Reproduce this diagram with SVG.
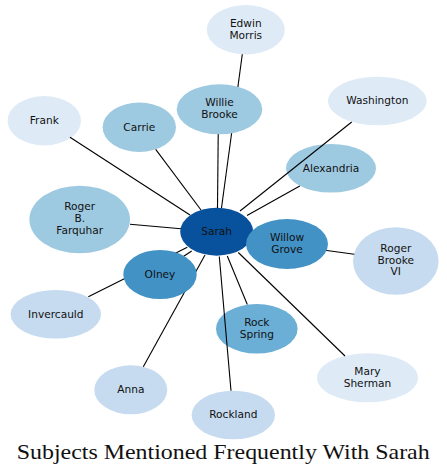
<svg xmlns="http://www.w3.org/2000/svg" width="447" height="475" viewBox="0 0 447 475">
<style>
  .lbl { font-family: "DejaVu Sans", sans-serif; font-size: 10.6px; fill: #111; text-anchor: middle; }
  .edge { stroke: #000; stroke-width: 1.1; fill: none; }
  .c1 { fill: #08519c; }
  .c2 { fill: #4292c6; }
  .c3 { fill: #6baed6; }
  .c4 { fill: #9ecae1; }
  .c5 { fill: #c6dbef; }
  .c6 { fill: #deebf7; }
  .title { font-family: "Liberation Serif", "Times New Roman", serif; font-size: 21px; fill: #111; }
</style>
<rect width="447" height="475" fill="#fff"/>
<g id="node-sarah"><ellipse class="c1" cx="216.7" cy="231.7" rx="36.5" ry="24"/><text class="lbl" x="216.7" y="235">Sarah</text></g>
<g id="node-edwin-morris"><ellipse class="c6" cx="245.8" cy="29.7" rx="39" ry="24.7"/><text class="lbl" x="245.8" y="26.7">Edwin</text><text class="lbl" x="245.8" y="38.7">Morris</text></g>
<g id="node-washington"><ellipse class="c6" cx="377.3" cy="101" rx="49.3" ry="24.3"/><text class="lbl" x="377.3" y="104.2">Washington</text></g>
<g id="node-frank"><ellipse class="c6" cx="44.3" cy="120.7" rx="36.7" ry="24.7"/><text class="lbl" x="44.3" y="123.9">Frank</text></g>
<g id="node-carrie"><ellipse class="c4" cx="139.3" cy="127.3" rx="36.7" ry="24.7"/><text class="lbl" x="139.3" y="130.5">Carrie</text></g>
<g id="node-alexandria"><ellipse class="c4" cx="331" cy="168.3" rx="45" ry="24.3"/><text class="lbl" x="331" y="171.5">Alexandria</text></g>
<g id="node-roger-b-farquhar"><ellipse class="c4" cx="79.7" cy="219.5" rx="50.3" ry="33.8"/><text class="lbl" x="79.7" y="210.3">Roger</text><text class="lbl" x="79.7" y="222.3">B.</text><text class="lbl" x="79.7" y="234.3">Farquhar</text></g>
<g id="node-roger-brooke-vi"><ellipse class="c5" cx="395.8" cy="261" rx="42.8" ry="33.8"/><text class="lbl" x="395.8" y="252">Roger</text><text class="lbl" x="395.8" y="263.7">Brooke</text><text class="lbl" x="395.8" y="275.4">VI</text></g>
<g id="node-invercauld"><ellipse class="c5" cx="55.8" cy="314.3" rx="45.2" ry="24.3"/><text class="lbl" x="55.8" y="317.5">Invercauld</text></g>
<g id="node-rock-spring"><ellipse class="c3" cx="256.8" cy="328.8" rx="40.8" ry="24.8"/><text class="lbl" x="256.8" y="325.8">Rock</text><text class="lbl" x="256.8" y="337.8">Spring</text></g>
<g id="node-mary-sherman"><ellipse class="c6" cx="367.5" cy="377.8" rx="50.5" ry="24.5"/><text class="lbl" x="367.5" y="374.8">Mary</text><text class="lbl" x="367.5" y="386.8">Sherman</text></g>
<g id="node-anna"><ellipse class="c5" cx="130.8" cy="389.8" rx="36.5" ry="24.5"/><text class="lbl" x="130.8" y="393">Anna</text></g>
<g id="node-rockland"><ellipse class="c5" cx="233.3" cy="415" rx="41.7" ry="24.3"/><text class="lbl" x="233.3" y="418.2">Rockland</text></g>
<g id="connectors">
  <line class="edge" x1="190" y1="215" x2="70" y2="137.3"/>
  <line class="edge" x1="201" y1="210" x2="155.7" y2="149.3"/>
  <line class="edge" x1="217.5" y1="208" x2="218.3" y2="125"/>
  <line class="edge" x1="221.5" y1="208" x2="242.3" y2="54.3"/>
  <line class="edge" x1="240" y1="211" x2="351.7" y2="122"/>
  <line class="edge" x1="247" y1="215.5" x2="299.8" y2="186"/>
  <line class="edge" x1="181" y1="228.7" x2="130" y2="224.3"/>
  <line class="edge" x1="250" y1="240" x2="354.3" y2="254.3"/>
  <line class="edge" x1="187.3" y1="247.3" x2="88.3" y2="296.7"/>
  <line class="edge" x1="191.7" y1="251" x2="175" y2="262"/>
  <line class="edge" x1="205" y1="255" x2="143.3" y2="366.7"/>
  <line class="edge" x1="219.3" y1="256.5" x2="231" y2="390.7"/>
  <line class="edge" x1="227.3" y1="256" x2="247.3" y2="304.5"/>
  <line class="edge" x1="238.3" y1="252.5" x2="345" y2="356"/>
</g>
<g id="node-willie-brooke"><ellipse class="c4" cx="219.5" cy="109.3" rx="42.8" ry="25"/><text class="lbl" x="219.5" y="106.3">Willie</text><text class="lbl" x="219.5" y="118.3">Brooke</text></g>
<g id="node-olney"><ellipse class="c2" cx="160" cy="274.5" rx="36.7" ry="24.5"/><text class="lbl" x="160" y="277.7">Olney</text></g>
<g id="node-willow-grove"><ellipse class="c2" cx="287" cy="244" rx="41" ry="25"/><text class="lbl" x="287" y="240.5">Willow</text><text class="lbl" x="287" y="252.5">Grove</text></g>
<text class="title" x="16.7" y="459.3" textLength="413" lengthAdjust="spacingAndGlyphs">Subjects Mentioned Frequently With Sarah</text>
</svg>
